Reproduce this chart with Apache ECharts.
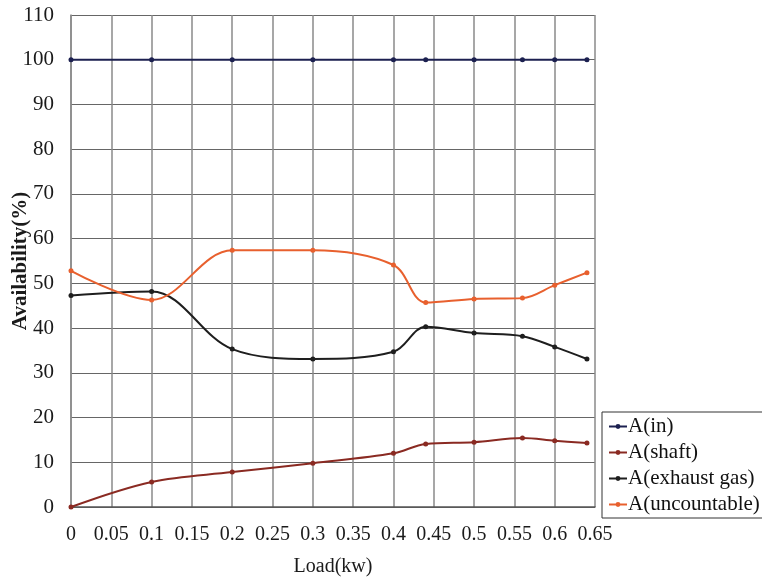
<!DOCTYPE html>
<html>
<head>
<meta charset="utf-8">
<script src="https://cdn.jsdelivr.net/npm/echarts@6/dist/echarts.min.js"></script>
<style>
  html, body { margin: 0; padding: 0; background: #fff; }
  #chart { width: 762px; height: 582px; }
</style>
</head>
<body>
<div id="chart"></div>
<script>
// Load points (kW) at which availability was evaluated
const loads = [0, 0.1, 0.2, 0.3, 0.4, 0.44, 0.5, 0.56, 0.6, 0.64];

// Availability shares (%)
const aIn          = [100, 100, 100, 100, 100, 100, 100, 100, 100, 100];
const aShaft       = [0, 5.6, 7.8, 9.8, 12.0, 14.1, 14.5, 15.4, 14.8, 14.3];
const aExhaust     = [47.3, 48.2, 35.3, 33.1, 34.7, 40.3, 38.9, 38.2, 35.8, 33.1];
const aUncountable = [52.8, 46.3, 57.4, 57.4, 54.1, 45.7, 46.5, 46.7, 49.6, 52.4];

const seriesNames = ['A(in)', 'A(shaft)', 'A(exhaust gas)', 'A(uncountable)'];
const seriesColors = ['#1c2050', '#8a2a22', '#1e1e1e', '#e8602e'];

const pairs = vals => loads.map((x, i) => [x, vals[i]]);

const serif = '"Liberation Serif", "DejaVu Serif", serif';

function lineSeries(name, vals, color) {
  return {
    name: name,
    type: 'line',
    data: pairs(vals),
    smooth: 0.35,
    symbol: 'circle',
    symbolSize: 5,
    lineStyle: { color: color, width: 2 },
    itemStyle: { color: color },
    emphasis: { disabled: true }
  };
}

const chart = echarts.init(document.getElementById('chart'), null, { renderer: 'canvas' });
chart.setOption({
  animation: false,
  backgroundColor: '#ffffff',
  grid: { left: 71, right: 167, top: 15, bottom: 75, containLabel: false, outerBoundsMode: 'none' },
  xAxis: {
    type: 'value',
    min: 0,
    max: 0.65,
    interval: 0.05,
    name: 'Load(kw)',
    nameLocation: 'middle',
    nameGap: 50,
    nameMoveOverlap: false,
    nameTextStyle: { fontFamily: serif, fontSize: 20, color: '#1a1a1a' },
    axisLine: { show: true, lineStyle: { color: '#555', width: 1.5 } },
    axisTick: { show: false },
    axisLabel: {
      fontFamily: serif, fontSize: 20, color: '#1a1a1a', margin: 18,
      formatter: v => String(+v.toFixed(2))
    },
    splitLine: { show: true, lineStyle: { color: '#8a8a8a', width: 1.5 } }
  },
  yAxis: {
    type: 'value',
    min: 0,
    max: 110,
    interval: 10,
    name: 'Availability(%)',
    nameLocation: 'middle',
    nameGap: 40,
    nameMoveOverlap: false,
    nameTextStyle: { fontFamily: serif, fontSize: 21, color: '#1a1a1a', fontWeight: 'bold' },
    axisLine: { show: true, lineStyle: { color: '#8a8a8a', width: 1.5 } },
    axisTick: { show: false },
    axisLabel: { fontFamily: serif, fontSize: 21, color: '#1a1a1a', margin: 17 },
    splitLine: { show: true, lineStyle: { color: '#666', width: 1.2 } }
  },
  legend: {
    orient: 'vertical',
    left: 602,
    top: 412,
    padding: [4, 10, 3, 6],
    itemGap: 5,
    itemWidth: 18,
    itemHeight: 6,
    borderColor: '#333',
    borderWidth: 1,
    backgroundColor: '#fff',
    textStyle: { fontFamily: serif, fontSize: 21, color: '#111', padding: [0, 0, 0, -4] },
    data: seriesNames
  },
  series: [
    lineSeries(seriesNames[0], aIn, seriesColors[0]),
    lineSeries(seriesNames[1], aShaft, seriesColors[1]),
    lineSeries(seriesNames[2], aExhaust, seriesColors[2]),
    lineSeries(seriesNames[3], aUncountable, seriesColors[3])
  ]
});
</script>
</body>
</html>
